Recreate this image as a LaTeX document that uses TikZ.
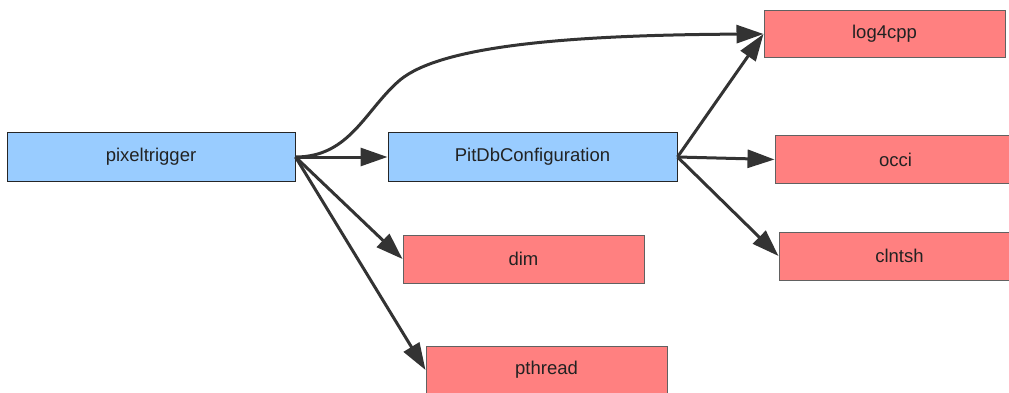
\documentclass[tikz,border=0pt]{standalone}
\usepackage{fontspec}
\setmainfont{Liberation Sans}
\usetikzlibrary{arrows.meta}
\definecolor{bluefill}{HTML}{99CCFF}
\definecolor{redfill}{HTML}{FF8080}
\definecolor{edgecol}{HTML}{333333}
\definecolor{txtcol}{HTML}{222222}
\begin{document}
\begin{tikzpicture}[x=1pt,y=-1pt,
  box/.style={draw, line width=1pt, minimum height=48pt, inner sep=0pt,
    font=\fontsize{18.5}{22}\selectfont, text=txtcol},
  bluebox/.style={box, fill=bluefill, draw=black!85},
  redbox/.style={box, fill=redfill, draw=black!62},
  dep/.style={draw=edgecol, line width=3pt, -{Triangle[length=27pt,width=18pt]}}]
\useasboundingbox (0,0) rectangle (1009,393);
\clip (0,0) rectangle (1009,393);
\node[bluebox, minimum width=288pt] (pix) at (151,157) {pixeltrigger};
\node[bluebox, minimum width=289pt] (pit) at (532.5,157) {PitDbConfiguration};
\node[redbox, minimum width=241pt] (dim) at (523.5,259) {dim};
\node[redbox, minimum width=241pt] (pth) at (546.5,370) {pthread};
\node[redbox, minimum width=241pt, minimum height=47pt] (log) at (884.5,34) {log4cpp};
\node[redbox, minimum width=241pt, minimum height=47pt] (occ) at (895.5,159.5) {occi};
\node[redbox, minimum width=241pt] (cln) at (899.5,256) {clntsh};
\draw[dep] (pix.east) .. controls (350,157) and (365,110) .. (400,80)
  .. controls (440,47) and (560,35) .. (log.west);
\draw[dep] (pix.east) -- (pit.west);
\draw[dep] (pix.east) -- (dim.west);
\draw[dep] (pix.east) -- (pth.west);
\draw[dep] (pit.east) -- (log.west);
\draw[dep] (pit.east) -- (occ.west);
\draw[dep] (pit.east) -- (cln.west);
\end{tikzpicture}
\end{document}
